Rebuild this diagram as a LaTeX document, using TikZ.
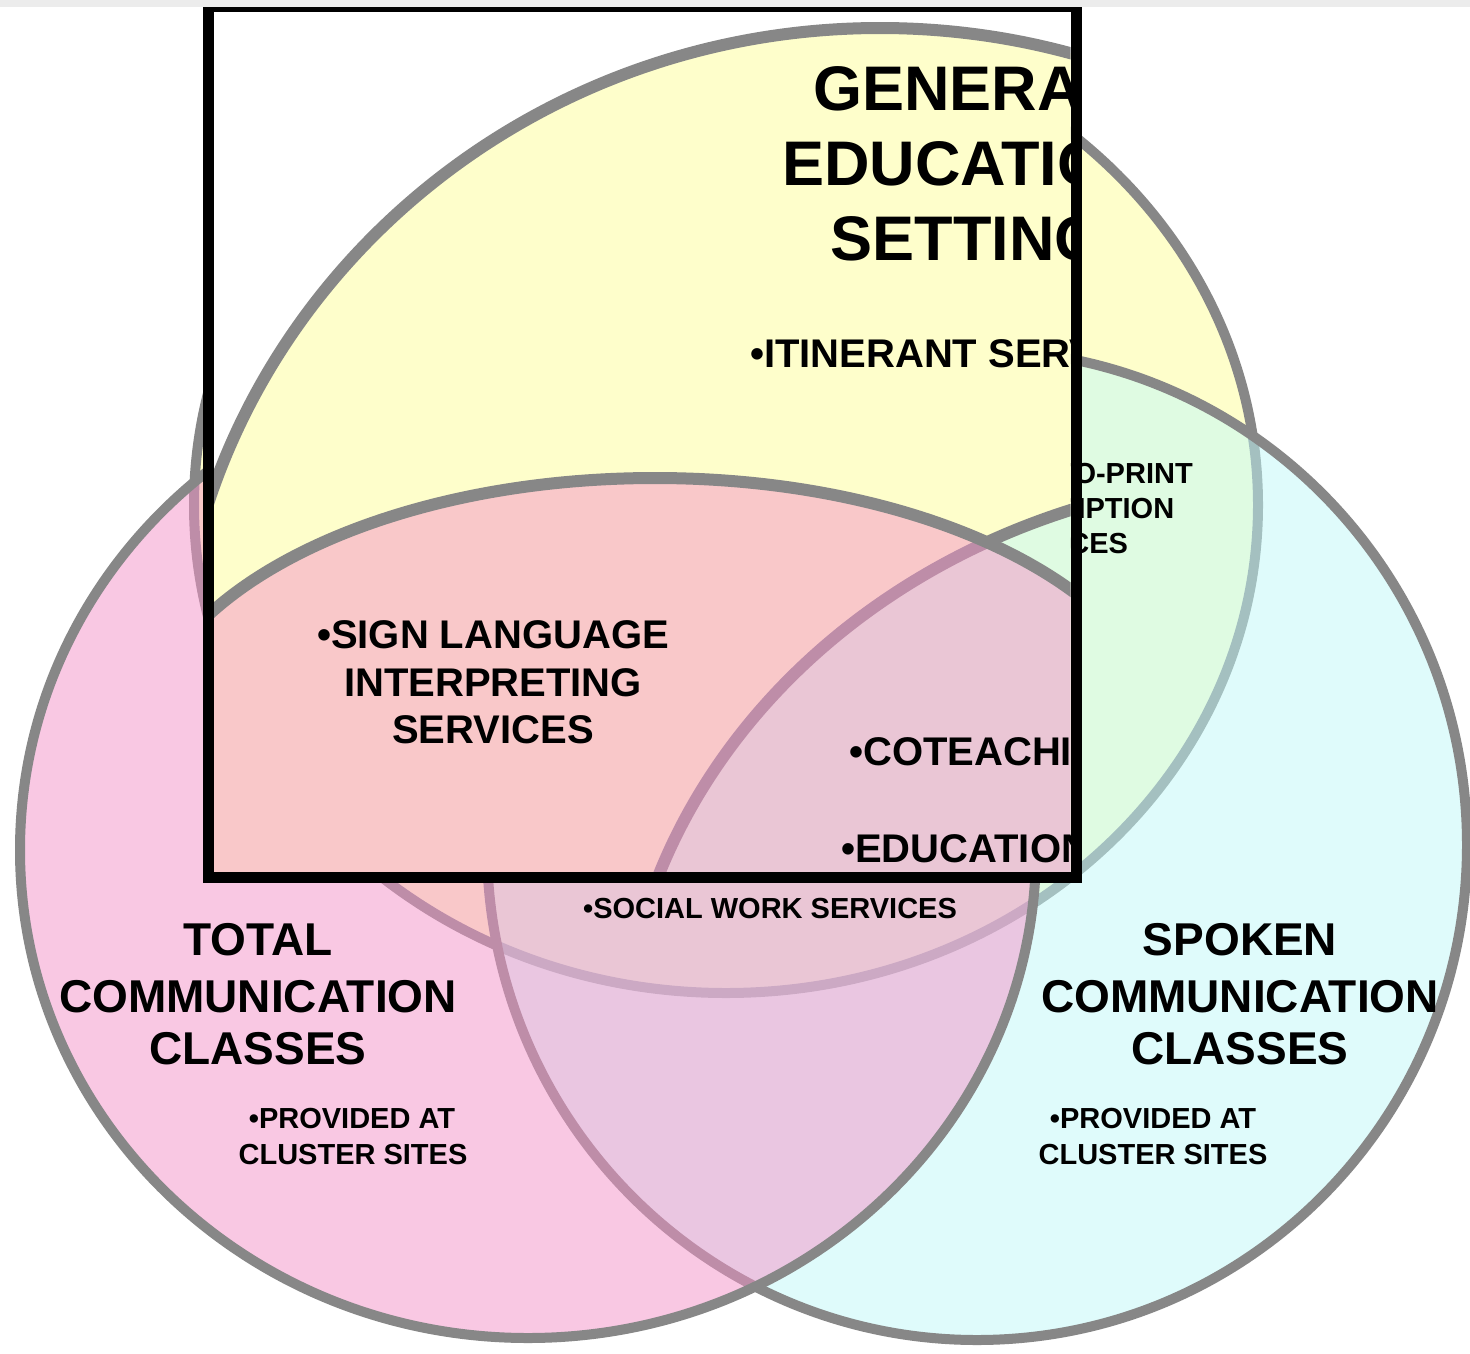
\documentclass[tikz,border=0pt]{standalone}
\usepackage{fontspec}
\setmainfont{Liberation Sans}
\definecolor{vyel}{RGB}{254,254,203}
\definecolor{vcyan}{RGB}{193,249,249}
\definecolor{vpink}{RGB}{245,147,201}
\definecolor{vgray}{RGB}{135,135,135}
\definecolor{stripgray}{RGB}{236,236,236}
\begin{document}
\begin{tikzpicture}[x=1pt,y=-1pt,
  ring/.style={draw=vgray, line width=10pt},
  ringb/.style={draw=vgray, line width=12pt},
  txs/.style={inner sep=0pt, anchor=base, font=\bfseries\fontsize{29pt}{35pt}\selectfont},
  txm/.style={inner sep=0pt, anchor=base, font=\bfseries\fontsize{40pt}{48pt}\selectfont},
  txl/.style={inner sep=0pt, anchor=base, font=\bfseries\fontsize{46pt}{55pt}\selectfont},
  txh/.style={inner sep=0pt, anchor=base, font=\bfseries\fontsize{63pt}{76pt}\selectfont}]
\useasboundingbox (0,0) rectangle (1470,1353);
\fill[white] (0,0) rectangle (1470,1353);
% ---- base diagram ----
\fill[vyel] (726,505) ellipse [x radius=532pt, y radius=488pt];
\draw[ring] (726,505) ellipse [x radius=532pt, y radius=488pt];
\fill[vcyan, fill opacity=0.5] (977,845) ellipse [x radius=490pt, y radius=495pt];
\draw[ring] (977,845) ellipse [x radius=490pt, y radius=495pt];
\fill[vpink, fill opacity=0.5] (528,850) ellipse [x radius=508pt, y radius=488pt];
\draw[ring] (528,850) ellipse [x radius=508pt, y radius=488pt];
% base texts
\node[txs] (sp1) at (1055,483) {•SPEECH-TO-PRINT};
\node[txs] (sp2) at (1055,518) {TRANSCRIPTION};
\node[txs] (sp3) at (1055,553) {SERVICES};
\node[txs] (sw) at (770,918) {•SOCIAL WORK SERVICES};
\node[txl] (tc1) at (258,955) {TOTAL};
\node[txl] (tc2) at (258,1012) {COMMUNICATION};
\node[txl] (tc3) at (258,1064) {CLASSES};
\node[txl] (sc1) at (1240,955) {SPOKEN};
\node[txl] (sc2) at (1240,1012) {COMMUNICATION};
\node[txl] (sc3) at (1240,1064) {CLASSES};
\node[txs] (pl1) at (352,1128) {•PROVIDED AT};
\node[txs] (pl2) at (353,1164) {CLUSTER SITES};
\node[txs] (pr1) at (1153,1128) {•PROVIDED AT};
\node[txs] (pr2) at (1153,1164) {CLUSTER SITES};
% ---- magnified inset ----
\begin{scope}
  \clip (213.5,12) rectangle (1070.5,871.5);
  \fill[white] (0,0) rectangle (1470,1353);
  \fill[vyel] (880,711) ellipse [x radius=705pt, y radius=683pt];
  \draw[ringb] (880,711) ellipse [x radius=705pt, y radius=683pt];
  \fill[vcyan, fill opacity=0.5] (1300,1075) ellipse [x radius=680pt, y radius=600pt];
  \draw[ringb] (1300,1075) ellipse [x radius=680pt, y radius=600pt];
  \fill[vpink, fill opacity=0.5] (655,751) ellipse [x radius=515pt, y radius=273pt];
  \draw[ringb] (655,751) ellipse [x radius=515pt, y radius=273pt];
  \node[txh] (g1) at (967,110) {GENERAL};
  \node[txh] (g2) at (967,185) {EDUCATION};
  \node[txh] (g3) at (967,260) {SETTING};
  \node[txm] (it) at (970,367) {•ITINERANT SERVICES};
  \node[txm] (sl1) at (493,648) {•SIGN LANGUAGE};
  \node[txm] (sl2) at (493,696) {INTERPRETING};
  \node[txm] (sl3) at (493,743) {SERVICES};
  \node[txm, anchor=base west] (co) at (849,765) {•COTEACHING};
  \node[txm, anchor=base west] (ed) at (841,862) {•EDUCATION};
\end{scope}
\draw[line width=11pt] (208,6.5) rectangle (1076,877);
\fill[stripgray] (0,0) rectangle (1470,7);
\end{tikzpicture}
\end{document}
